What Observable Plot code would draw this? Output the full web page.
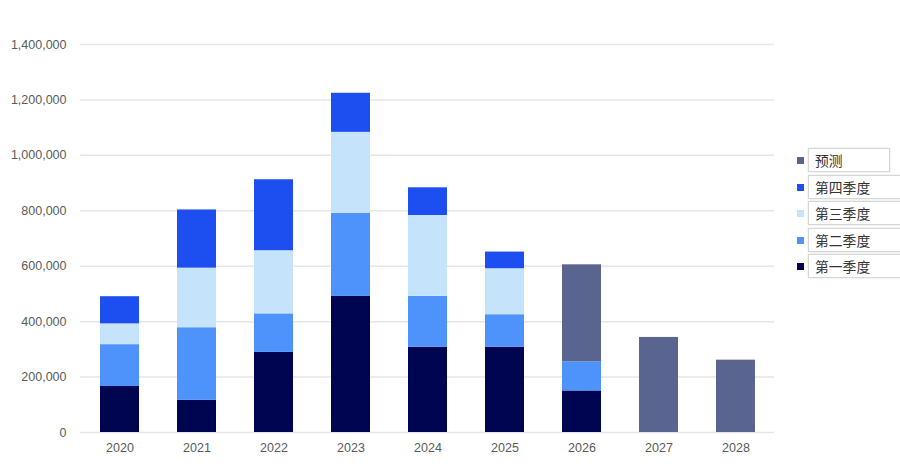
<!DOCTYPE html>
<html>
<head>
<meta charset="utf-8">
<script src="https://cdn.jsdelivr.net/npm/d3@7"></script>
<script src="https://cdn.jsdelivr.net/npm/@observablehq/plot@0.6"></script>
<style>
  html, body { margin: 0; padding: 0; background: #fff; }
  #wrap { position: relative; width: 900px; height: 470px; overflow: hidden; }
  #legend { position: absolute; left: 797px; top: 148px; font-family: "Noto Sans CJK SC", sans-serif; font-size: 13.8px; color: #333; }
  .item { position: relative; height: 24px; margin-bottom: 2.5px; }
  .sw { position: absolute; left: 0; top: 9px; width: 7px; height: 7px; }
  .box { position: absolute; left: 11px; top: 0; height: 22px; border: 1px solid #d6d6d6; box-shadow: 0 0 2px rgba(0,0,0,0.12); background: #fff; line-height: 22px; padding-left: 6px; box-sizing: content-box; white-space: nowrap; }
</style>
</head>
<body>
<div id="wrap"><div id="chart"></div><div id="legend"></div></div>
<script>
const years = ["2020","2021","2022","2023","2024","2025","2026","2027","2028"];
const seriesNames = ["第一季度","第二季度","第三季度","第四季度","预测"];
const q1 = [166000,116000,289000,491000,308000,308000,150000,0,0];
const q2 = [151000,262000,139000,300000,183000,117000,105000,0,0];
const q3 = [75000,215000,228000,292000,292000,166000,0,0,0];
const q4 = [98000,210000,256000,141000,100000,60000,0,0,0];
const forecast = [0,0,0,0,0,0,350000,343000,261000];
const colors = ["#000552","#4e92fb","#c5e4fc","#1c4ef0","#59648f"];
const yTicks = [0,200000,400000,600000,800000,1000000,1200000,1400000];

const seriesValues = [q1,q2,q3,q4,forecast];
const rows = [];
seriesNames.forEach((s, i) => {
  years.forEach((y, j) => {
    const v = seriesValues[i][j];
    if (v > 0) rows.push({year: y, series: s, value: v});
  });
});

const chart = Plot.plot({
  width: 900,
  height: 470,
  marginLeft: 80,
  marginRight: 126,
  marginTop: 44,
  marginBottom: 38,
  style: {fontFamily: "'Liberation Sans', Arial, sans-serif", fontSize: "12.5px", color: "#5a5a5a", background: "#fff"},
  x: {domain: years, paddingInner: 0.5, paddingOuter: 0.25, label: null, tickSize: 0, tickPadding: 11},
  y: {domain: [0, 1400000], ticks: yTicks, tickFormat: d3.format(","), label: null, tickSize: 0, tickPadding: 14},
  color: {domain: seriesNames, range: colors},
  marks: [
    Plot.gridY(yTicks, {stroke: "#e6e6e6", strokeOpacity: 1, strokeWidth: 1.5}),
    Plot.barY(rows, Plot.stackY({x: "year", y: "value", fill: "series", order: seriesNames, inset: 0}))
  ]
});
document.getElementById("chart").appendChild(chart);

const legendOrder = ["预测","第四季度","第三季度","第二季度","第一季度"];
const widths = [74, 90, 90, 90, 90];
const lg = document.getElementById("legend");
legendOrder.forEach((name, k) => {
  const idx = seriesNames.indexOf(name);
  const item = document.createElement("div");
  item.className = "item";
  const sw = document.createElement("div");
  sw.className = "sw";
  sw.style.background = colors[idx];
  const box = document.createElement("div");
  box.className = "box";
  box.style.width = widths[k] + "px";
  box.textContent = name;
  item.appendChild(sw);
  item.appendChild(box);
  lg.appendChild(item);
});
</script>
</body>
</html>
